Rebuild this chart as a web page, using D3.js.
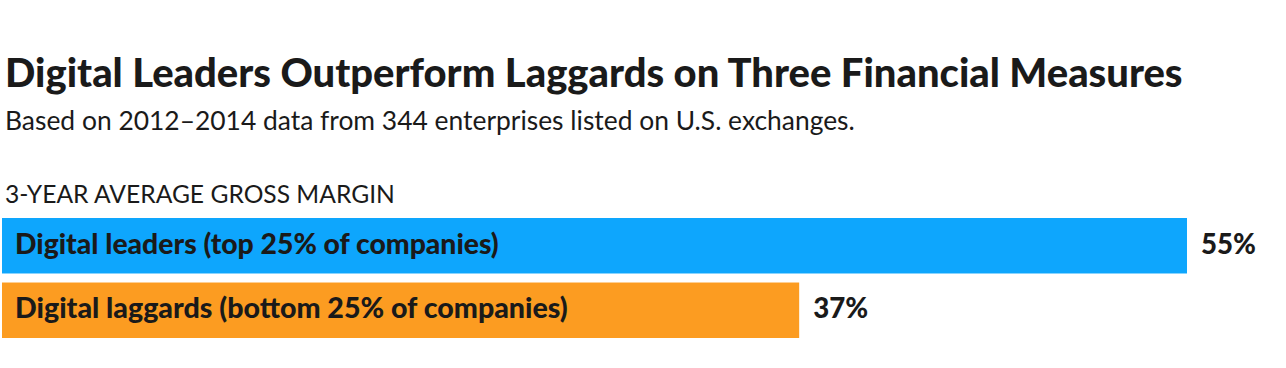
<!DOCTYPE html>
<html>
<head>
<meta charset="utf-8">
<script src="https://cdn.jsdelivr.net/npm/d3@7"></script>
<style>
  body { margin: 0; background: #fff; }
  text { font-family: Lato, "Noto Sans", sans-serif; fill: #1a1a1a; }
</style>
</head>
<body>
<svg id="chart" width="1286" height="368"></svg>
<script>
const title = 'Digital Leaders Outperform Laggards on Three Financial Measures'
const subtitle = 'Based on 2012–2014 data from 344 enterprises listed on U.S. exchanges.'
const section = '3-YEAR AVERAGE GROSS MARGIN'

const categories = ['Digital leaders (top 25% of companies)', 'Digital laggards (bottom 25% of companies)']
const values = [55, 37]
const colors = ['#0ea6fd', '#fc9c21']

const svg = d3.select('#chart')

// fit a text element to a target width by tweaking its font size
function fitText(sel, targetW) {
  const w = sel.node().getComputedTextLength()
  const fs = parseFloat(sel.attr('font-size'))
  sel.attr('font-size', fs * targetW / w)
}

const t = svg.append('text')
  .attr('x', 5).attr('y', 87)
  .attr('font-size', 33).attr('font-weight', 900)
  .text(title)
fitText(t, 1178)

const st = svg.append('text')
  .attr('x', 5).attr('y', 130)
  .attr('font-size', 22)
  .text(subtitle)
fitText(st, 850)

const sec = svg.append('text')
  .attr('x', 5).attr('y', 203)
  .attr('font-size', 20)
  .text(section)
fitText(sec, 390)

const x = d3.scaleLinear().domain([0, 55]).range([2, 1187])
const y = d3.scaleBand().domain(categories).range([218, 338]).paddingInner(0.14)

const g = svg.append('g')

g.selectAll('rect')
  .data(categories)
  .enter()
  .append('rect')
  .attr('x', x(0))
  .attr('y', d => y(d))
  .attr('width', (d, i) => x(values[i]) - x(0))
  .attr('height', y.bandwidth())
  .attr('fill', (d, i) => colors[i])

const labelWidths = [484, 553]
g.selectAll('text.cat')
  .data(categories)
  .enter()
  .append('text')
  .attr('class', 'cat')
  .attr('x', 15)
  .attr('y', d => y(d) + y.bandwidth() / 2 + 8)
  .attr('font-size', 22)
  .attr('font-weight', 900)
  .text(d => d)
  .each(function(d, i) { fitText(d3.select(this), labelWidths[i]) })

g.selectAll('text.val')
  .data(values)
  .enter()
  .append('text')
  .attr('class', 'val')
  .attr('x', d => x(d) + 14)
  .attr('y', (d, i) => y(categories[i]) + y.bandwidth() / 2 + 8)
  .attr('font-size', 22)
  .attr('font-weight', 900)
  .text(d => d + '%')
  .each(function() { fitText(d3.select(this), 55) })
</script>
</body>
</html>
